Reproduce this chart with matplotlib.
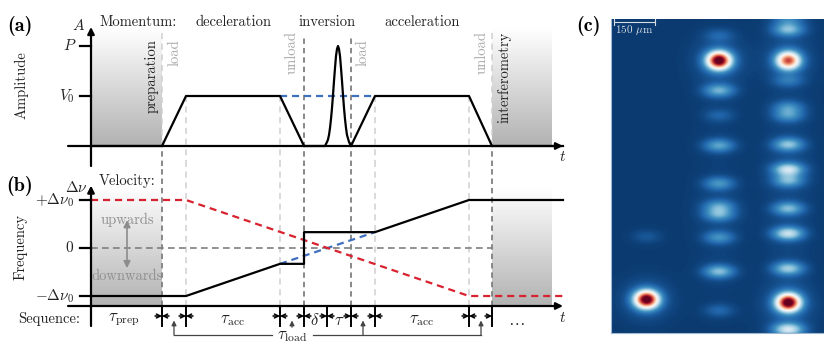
'''Pulse sequence sketch with absorption image'''

#Libraries
import numpy as np
import matplotlib
matplotlib.use('Agg')
import matplotlib.pyplot as plt
from matplotlib.colors import LinearSegmentedColormap

plt.rcParams['font.family'] = ['cmr10', 'DejaVu Sans']
plt.rcParams['mathtext.fontset'] = 'cm'
plt.rcParams['axes.unicode_minus'] = False

#Data
durations = [71, 24, 94, 24, 23, 24, 24, 94, 23]
names = ['prep', 'load', 'acc', 'unload', 'delta', 'tau', 'load2', 'acc2', 'unload2']
t_marks = np.cumsum(durations)
t_end = 472
t_shade = 461

amp_t = [0, 71, 95, 189, 213, 234, 236, 237, 238, 239, 240, 241, 242, 243, 244, 245,
         246, 247, 248, 249, 250, 251, 252, 253, 254, 255, 256, 258, 260, 284, 378, 401, t_end]
amp_v = [0, 0, 1, 1, 0, 0, 0.08, 0.13, 0.22, 0.36, 0.54, 0.76, 1.02, 1.3, 1.56, 1.8,
         1.94, 2, 1.94, 1.8, 1.56, 1.3, 1.02, 0.76, 0.54, 0.36, 0.22, 0.08, 0, 1, 1, 0, 0]

freq_t = [0, 95, 189, 213, 213, 284, 378, t_end]
freq_black = [-1, -1, -0.33, -0.33, 0.33, 0.33, 1, 1]
red_t = [0, 95, 378, t_end]
red_v = [1, 1, -1, -1]
blue_t = [189, 284]
blue_v = [-0.33, 0.33]

seq_labels = [r'$\tau_{\mathrm{prep}}$', r'$\tau_{\mathrm{acc}}$', r'$\delta$', r'$\tau$',
              r'$\tau_{\mathrm{acc}}$', r'$\dots$']

#Spots, pixels from the image corner
col_x = [35, 107, 176]
col1_y = [280, 217]
col1_peak = [1.0, 0.05]
col2_y = [41, 16, 71, 96, 126, 164, 187, 195, 218, 252, 291]
col2_peak = [1.0, 0.07, 0.22, 0.07, 0.2, 0.17, 0.18, 0.2, 0.16, 0.25, 0.08]
col3_y = [10, 41, 61, 88, 96, 125, 150, 161, 189, 214, 249, 283, 310, 0]
col3_peak = [0.24, 0.76, 0.1, 0.15, 0.16, 0.26, 0.34, 0.22, 0.24, 0.34, 0.28, 1.0, 0.36, 0.12]

#Colours
GRAY = '#7f7f7f'
LIGHT = '#cfcfcf'
LABEL = '#a8a8a8'
RED = '#d8222f'
BLUE = '#3f6fbf'
W, H = 830, 348


#Defined Functions
def Label(x, y, s, **kw):
    '''Text placed by pixel position'''
    kw.setdefault('ha', 'center')
    kw.setdefault('va', 'center')
    kw.setdefault('fontsize', 10.5)
    kw.setdefault('color', '#222222')
    fig.text(x / W, 1 - y / H, s, **kw)


def Shade(ax, x0, x1, y0, y1):
    '''Gray gradient block'''
    grad = np.linspace(0, 1, 128).reshape(-1, 1)
    cmap = LinearSegmentedColormap.from_list('sh', ['#ffffff', '#b2b2b2'])
    ax.imshow(grad, extent=[x0, x1, y0, y1], cmap=cmap, aspect='auto', zorder=0,
              vmin=0, vmax=1)


def AxisLines(ax, base, top, bottom, right):
    '''Arrowed axes through the origin'''
    ax.annotate('', xy=(0, top), xytext=(0, bottom),
                arrowprops=dict(arrowstyle='-|>', color='k', lw=1.6, shrinkA=0, shrinkB=0))
    ax.annotate('', xy=(right, base), xytext=(-23, base),
                arrowprops=dict(arrowstyle='-|>', color='k', lw=1.6, shrinkA=0, shrinkB=0))


def Dimension(ax, x, y, left=True, right=True):
    '''Small inward arrows on a sequence boundary'''
    style = dict(arrowstyle='->', color='k', lw=1.1, shrinkA=0, shrinkB=0, mutation_scale=7)
    if left:
        ax.annotate('', xy=(x, y), xytext=(x - 7, y), arrowprops=style)
    if right:
        ax.annotate('', xy=(x, y), xytext=(x + 7, y), arrowprops=style)


#Main
fig = plt.figure(figsize=(W / 100, H / 100), dpi=100)

ax_a = fig.add_axes([0, 1 - 166 / H, 575 / W, 166 / H])
ax_b = fig.add_axes([0, 0, 575 / W, (H - 166) / H])

'''Panel a'''
Shade(ax_a, 0, t_marks[0], 0, 2.36)
Shade(ax_a, t_marks[-1], t_shade, 0, 2.36)
for i, t in enumerate(t_marks):
    dark = names[i] in ('unload', 'tau')
    edge = names[i] in ('prep', 'unload2')
    if dark:
        ax_a.plot([t, t], [-0.4, 2.2], color=GRAY, lw=1.3, ls=(0, (3, 2.2)), zorder=1)
    elif edge:
        ax_a.plot([t, t], [0, 2.26], color=LIGHT, lw=1.1, ls=(0, (4, 3)), zorder=1)
        ax_a.plot([t, t], [-0.4, 0], color=GRAY, lw=1.3, ls=(0, (3, 2.2)), zorder=1)
    elif names[i] != 'delta':
        ax_a.plot([t, t], [-0.4, 1], color=LIGHT, lw=1.1, ls=(0, (4, 3)), zorder=1)
ax_a.plot(blue_t, [1, 1], color=BLUE, lw=1.6, ls=(0, (3.2, 2.2)), zorder=2)
ax_a.plot(amp_t, amp_v, color='k', lw=1.6, zorder=3)
ax_a.plot([-11, 0], [1, 1], color='k', lw=1.6)
ax_a.plot([-11, 0], [2, 2], color='k', lw=1.6)
AxisLines(ax_a, 0, 2.38, -0.4, 472)
ax_a.set_xlim(-91, 484)
ax_a.set_ylim(-0.4, 2.92)
ax_a.axis('off')

'''Panel b'''
Shade(ax_b, 0, t_marks[0], -1.208, 1.27)
Shade(ax_b, t_marks[-1], t_shade, -1.208, 1.27)
for i, t in enumerate(t_marks):
    if names[i] in ('prep', 'unload', 'tau', 'unload2'):
        ax_b.plot([t, t], [-1.208, 1.708], color=GRAY, lw=1.3, ls=(0, (3, 2.2)), zorder=1)
    elif names[i] != 'delta':
        ax_b.plot([t, t], [-1.208, 1.708], color=LIGHT, lw=1.1, ls=(0, (4, 3)), zorder=1)
ax_b.plot([0, t_marks[-1]], [0, 0], color=GRAY, lw=1.2, ls=(0, (4, 2.6)), zorder=1)
ax_b.plot(blue_t, blue_v, color=BLUE, lw=1.6, ls=(0, (3.2, 2.2)), zorder=2)
ax_b.plot(red_t, red_v, color=RED, lw=1.6, ls=(0, (3.2, 2.2)), zorder=2)
ax_b.plot(freq_t, freq_black, color='k', lw=1.6, zorder=3)
for v in (-1, 0, 1):
    ax_b.plot([-11, 0], [v, v], color='k', lw=1.6)
AxisLines(ax_b, -1.208, 1.3, -1.625, 472)
ax_b.annotate('', xy=(36, 0.58), xytext=(36, -0.42),
              arrowprops=dict(arrowstyle='<|-|>', color='#8c8c8c', lw=1.2, shrinkA=0, shrinkB=0))

'''Sequence row'''
for i, t in enumerate(t_marks):
    ax_b.plot([t, t], [-1.625, -1.208], color='k', lw=1.4)
    Dimension(ax_b, t, -1.417, right=(i != len(t_marks) - 1))

y_row = -1.8125
y_tip = -1.51
ax_b.plot([83, 181], [y_row, y_row], color='#444444', lw=0.9)
ax_b.plot([222, 390], [y_row, y_row], color='#444444', lw=0.9)
for x in (83, 272, 390):
    ax_b.annotate('', xy=(x, y_tip), xytext=(x, y_row),
                  arrowprops=dict(arrowstyle='-|>', color='#444444', lw=0.9,
                                  shrinkA=0, shrinkB=0, mutation_scale=7))
ax_b.annotate('', xy=(201, y_tip), xytext=(201, -1.65),
              arrowprops=dict(arrowstyle='-|>', color='#444444', lw=0.9,
                              shrinkA=0, shrinkB=0, mutation_scale=7))
ax_b.set_xlim(-91, 484)
ax_b.set_ylim(-2.083, 1.708)
ax_b.axis('off')

'''Panel c'''
ax_c = fig.add_axes([611 / W, 1 - 333 / H, 212 / W, 314 / H])
yy, xx = np.mgrid[0:314, 0:212]
image = np.full(xx.shape, 0.02)
for cx, ys, peaks in zip(col_x, [col1_y, col2_y, col3_y], [col1_peak, col2_peak, col3_peak]):
    for sy, peak in zip(ys, peaks):
        sx_s, sy_s = (8, 6) if peak > 0.7 else (10, 4.5)
        image += peak * np.exp(-(xx - cx) ** 2 / (2 * sx_s ** 2) - (yy - sy) ** 2 / (2 * sy_s ** 2))
        image += 0.08 * peak * np.exp(-(xx - cx) ** 2 / (2 * 17 ** 2) - (yy - sy) ** 2 / (2 * 14 ** 2))
ax_c.imshow(image, cmap='RdBu_r', vmin=0, vmax=1, aspect='auto',
            extent=[0, 212, 314, 0], interpolation='bilinear')
ax_c.plot([3, 44], [2.5, 2.5], color='#d8dde6', lw=0.8)
ax_c.plot([3, 3], [0, 6], color='#d8dde6', lw=0.8)
ax_c.plot([44, 44], [0, 6], color='#d8dde6', lw=0.8)
ax_c.set_xlim(0, 212)
ax_c.set_ylim(314, 0)
ax_c.set_xticks([])
ax_c.set_yticks([])
for side in ('top', 'right'):
    ax_c.spines[side].set_visible(False)
for side in ('left', 'bottom'):
    ax_c.spines[side].set_color('#9db8d4')
    ax_c.spines[side].set_linewidth(0.8)

'''Text'''
bold = dict(family='cmb10', fontsize=14.5, color='k')
Label(20, 26, '(a)', **bold)
Label(20, 186, '(b)', **bold)
Label(588, 26, '(c)', **bold)
Label(138, 22, 'Momentum:')
Label(233, 22, 'deceleration')
Label(327, 22, 'inversion')
Label(422, 22, 'acceleration')
Label(79, 26, r'$A$', fontsize=11)
Label(70, 46, r'$P$', fontsize=11)
Label(67, 96, r'$V_0$', fontsize=11)
Label(563, 157, r'$t$', fontsize=11)
Label(21, 85, 'Amplitude', rotation=90)
Label(152, 76, 'preparation', rotation=90)
Label(504, 77, 'interferometry', rotation=90)
Label(175, 53, 'load', rotation=90, color=LABEL)
Label(292, 53, 'unload', rotation=90, color=LABEL)
Label(363, 53, 'load', rotation=90, color=LABEL)
Label(482, 53, 'unload', rotation=90, color=LABEL)
Label(76, 187, r'$\Delta\nu$', fontsize=11)
Label(127, 181, 'Velocity:')
Label(74, 200, r'$+\Delta\nu_0$', ha='right', fontsize=11)
Label(74, 248, r'$0$', ha='right', fontsize=11)
Label(74, 296, r'$-\Delta\nu_0$', ha='right', fontsize=11)
Label(21, 247, 'Frequency', rotation=90)
Label(127, 220, 'upwards', color='#8f8f8f')
Label(127, 276, 'downwards', color='#8f8f8f')
Label(49, 319, 'Sequence:')
for x, s in zip([124, 233, 315, 339, 422, 516], seq_labels):
    Label(x, 320, s, fontsize=12)
Label(563, 318, r'$t$', fontsize=11)
Label(292, 336, r'$\tau_{\mathrm{load}}$', fontsize=12)
Label(634, 30, r'150 $\mathrm{\mu m}$', fontsize=8, color='#d8dde6')

fig.savefig('out.png', dpi=100)
